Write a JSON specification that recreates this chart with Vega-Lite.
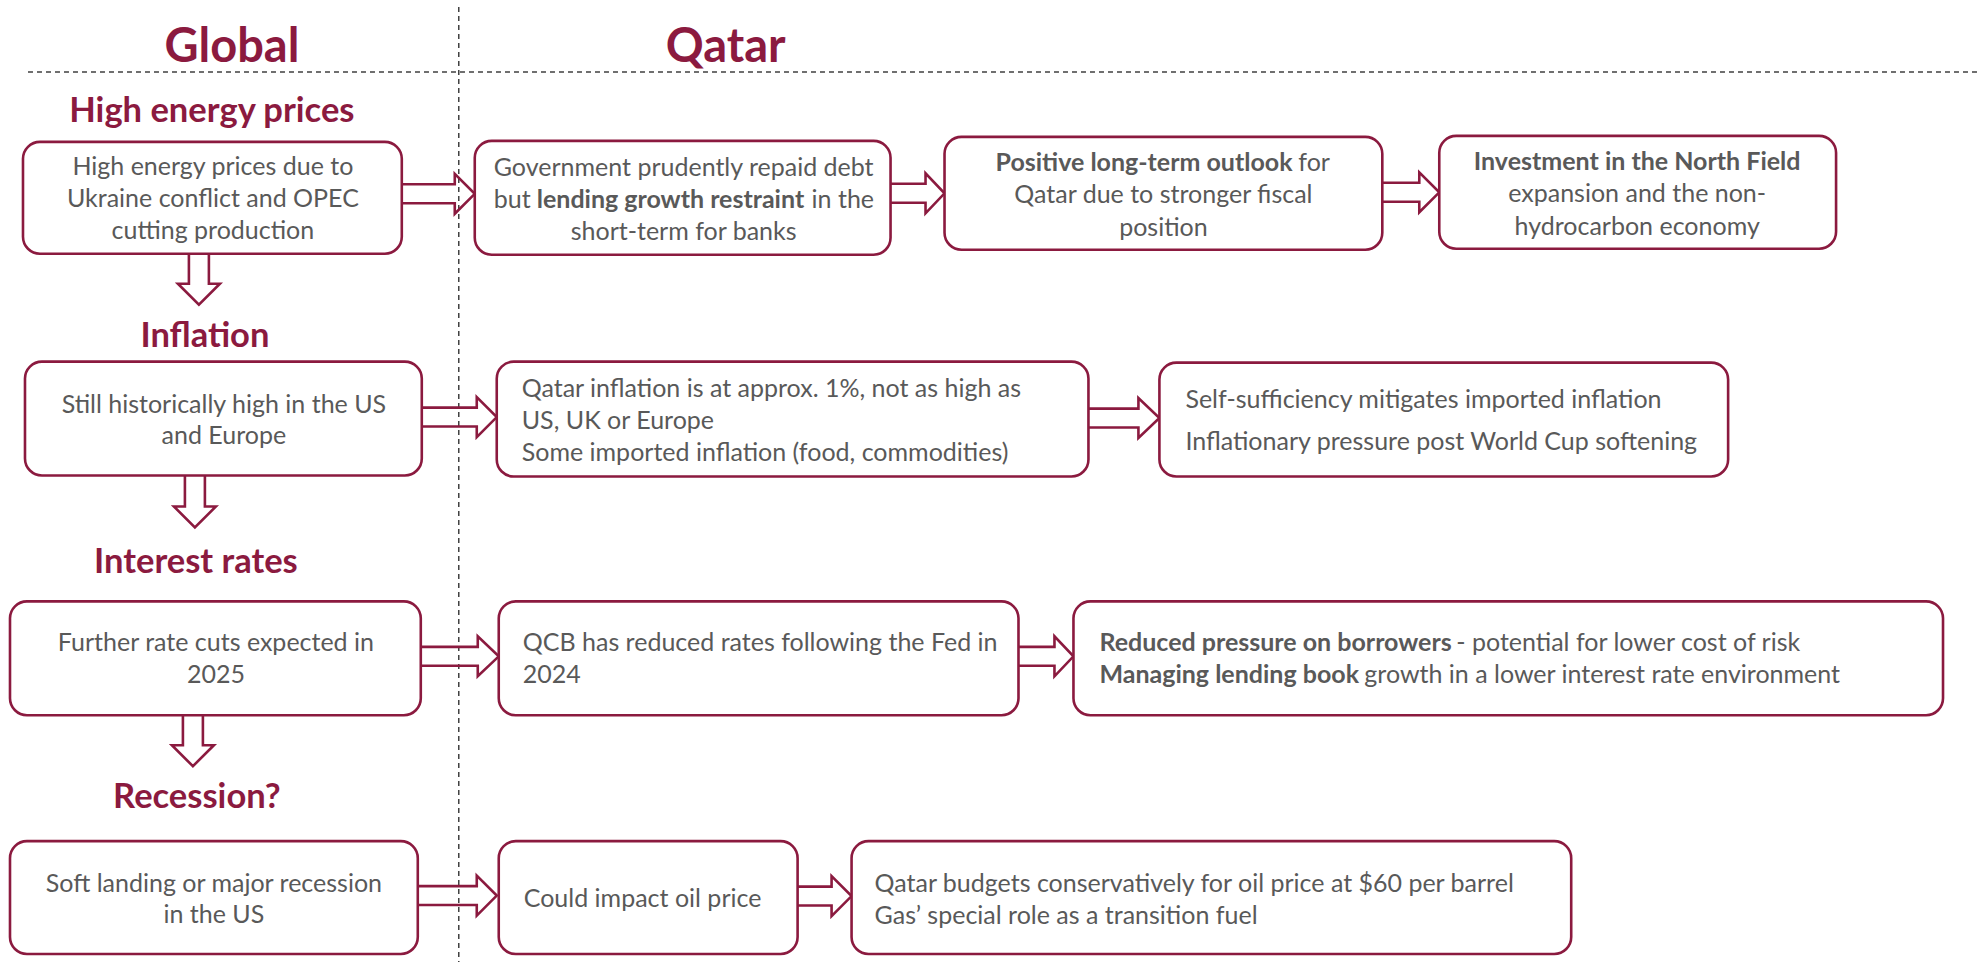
{
  "$schema": "https://vega.github.io/schema/vega-lite/v6.json",
  "width": 1981,
  "height": 963,
  "autosize": {"type": "fit", "contains": "padding"},
  "padding": 0,
  "background": "white",
  "config": {"view": {"stroke": null}},
  "datasets": {
    "guides": [
      {"x": 28, "y": 72, "x2": 1981, "y2": 72},
      {"x": 459, "y": 7, "x2": 459, "y2": 963}
    ],
    "boxes": [
      {"id": "B1", "x": 23, "x2": 402, "y": 142, "y2": 254},
      {"id": "B2", "x": 475, "x2": 891, "y": 141, "y2": 255},
      {"id": "B3", "x": 945, "x2": 1383, "y": 137, "y2": 250},
      {"id": "B4", "x": 1440, "x2": 1837, "y": 136, "y2": 249},
      {"id": "B5", "x": 25, "x2": 422, "y": 362, "y2": 476},
      {"id": "B6", "x": 497, "x2": 1089, "y": 362, "y2": 477},
      {"id": "B7", "x": 1160, "x2": 1729, "y": 363, "y2": 477},
      {"id": "B8", "x": 10, "x2": 421, "y": 602, "y2": 716},
      {"id": "B9", "x": 499, "x2": 1019, "y": 602, "y2": 716},
      {"id": "B10", "x": 1074, "x2": 1944, "y": 602, "y2": 716},
      {"id": "B11", "x": 10, "x2": 418, "y": 842, "y2": 955},
      {"id": "B12", "x": 499, "x2": 798, "y": 842, "y2": 955},
      {"id": "B13", "x": 852, "x2": 1572, "y": 842, "y2": 955}
    ],
    "arrows": [
      {"id": "A1", "i": 1, "x": 402, "y": 184.5}, {"id": "A1", "i": 2, "x": 455, "y": 184.5}, {"id": "A1", "i": 3, "x": 455, "y": 174}, {"id": "A1", "i": 4, "x": 475, "y": 194}, {"id": "A1", "i": 5, "x": 455, "y": 214}, {"id": "A1", "i": 6, "x": 455, "y": 203.5}, {"id": "A1", "i": 7, "x": 402, "y": 203.5},
      {"id": "A2", "i": 1, "x": 422, "y": 408}, {"id": "A2", "i": 2, "x": 477, "y": 408}, {"id": "A2", "i": 3, "x": 477, "y": 397.5}, {"id": "A2", "i": 4, "x": 497, "y": 417.5}, {"id": "A2", "i": 5, "x": 477, "y": 437.5}, {"id": "A2", "i": 6, "x": 477, "y": 427}, {"id": "A2", "i": 7, "x": 422, "y": 427},
      {"id": "A3", "i": 1, "x": 421, "y": 647.5}, {"id": "A3", "i": 2, "x": 478, "y": 647.5}, {"id": "A3", "i": 3, "x": 478, "y": 637}, {"id": "A3", "i": 4, "x": 499, "y": 657}, {"id": "A3", "i": 5, "x": 478, "y": 677}, {"id": "A3", "i": 6, "x": 478, "y": 666.5}, {"id": "A3", "i": 7, "x": 421, "y": 666.5},
      {"id": "A4", "i": 1, "x": 418, "y": 887}, {"id": "A4", "i": 2, "x": 477, "y": 887}, {"id": "A4", "i": 3, "x": 477, "y": 876.5}, {"id": "A4", "i": 4, "x": 497, "y": 896.5}, {"id": "A4", "i": 5, "x": 477, "y": 916.5}, {"id": "A4", "i": 6, "x": 477, "y": 906}, {"id": "A4", "i": 7, "x": 418, "y": 906},
      {"id": "A5", "i": 1, "x": 798, "y": 887.5}, {"id": "A5", "i": 2, "x": 832, "y": 887.5}, {"id": "A5", "i": 3, "x": 832, "y": 877}, {"id": "A5", "i": 4, "x": 852, "y": 897}, {"id": "A5", "i": 5, "x": 832, "y": 917}, {"id": "A5", "i": 6, "x": 832, "y": 906.5}, {"id": "A5", "i": 7, "x": 798, "y": 906.5},
      {"id": "A6", "i": 1, "x": 891, "y": 184}, {"id": "A6", "i": 2, "x": 926, "y": 184}, {"id": "A6", "i": 3, "x": 926, "y": 173.5}, {"id": "A6", "i": 4, "x": 945, "y": 193.5}, {"id": "A6", "i": 5, "x": 926, "y": 213.5}, {"id": "A6", "i": 6, "x": 926, "y": 203}, {"id": "A6", "i": 7, "x": 891, "y": 203},
      {"id": "A7", "i": 1, "x": 1383, "y": 183}, {"id": "A7", "i": 2, "x": 1420, "y": 183}, {"id": "A7", "i": 3, "x": 1420, "y": 172.5}, {"id": "A7", "i": 4, "x": 1440, "y": 192.5}, {"id": "A7", "i": 5, "x": 1420, "y": 212.5}, {"id": "A7", "i": 6, "x": 1420, "y": 202}, {"id": "A7", "i": 7, "x": 1383, "y": 202},
      {"id": "A8", "i": 1, "x": 1089, "y": 409}, {"id": "A8", "i": 2, "x": 1139, "y": 409}, {"id": "A8", "i": 3, "x": 1139, "y": 398.5}, {"id": "A8", "i": 4, "x": 1160, "y": 418.5}, {"id": "A8", "i": 5, "x": 1139, "y": 438.5}, {"id": "A8", "i": 6, "x": 1139, "y": 428}, {"id": "A8", "i": 7, "x": 1089, "y": 428},
      {"id": "A9", "i": 1, "x": 1019, "y": 647.5}, {"id": "A9", "i": 2, "x": 1055, "y": 647.5}, {"id": "A9", "i": 3, "x": 1055, "y": 637}, {"id": "A9", "i": 4, "x": 1074, "y": 657}, {"id": "A9", "i": 5, "x": 1055, "y": 677}, {"id": "A9", "i": 6, "x": 1055, "y": 666.5}, {"id": "A9", "i": 7, "x": 1019, "y": 666.5},
      {"id": "D1", "i": 1, "x": 189, "y": 254}, {"id": "D1", "i": 2, "x": 189, "y": 284}, {"id": "D1", "i": 3, "x": 178, "y": 284}, {"id": "D1", "i": 4, "x": 199, "y": 305}, {"id": "D1", "i": 5, "x": 220, "y": 284}, {"id": "D1", "i": 6, "x": 209, "y": 284}, {"id": "D1", "i": 7, "x": 209, "y": 254},
      {"id": "D2", "i": 1, "x": 185, "y": 476}, {"id": "D2", "i": 2, "x": 185, "y": 507}, {"id": "D2", "i": 3, "x": 174, "y": 507}, {"id": "D2", "i": 4, "x": 195, "y": 528}, {"id": "D2", "i": 5, "x": 216, "y": 507}, {"id": "D2", "i": 6, "x": 205, "y": 507}, {"id": "D2", "i": 7, "x": 205, "y": 476},
      {"id": "D3", "i": 1, "x": 183, "y": 716}, {"id": "D3", "i": 2, "x": 183, "y": 746}, {"id": "D3", "i": 3, "x": 172, "y": 746}, {"id": "D3", "i": 4, "x": 193, "y": 767}, {"id": "D3", "i": 5, "x": 214, "y": 746}, {"id": "D3", "i": 6, "x": 203, "y": 746}, {"id": "D3", "i": 7, "x": 203, "y": 716}
    ],
    "texts": [
      {"role": "column", "anchor": "middle", "x": 232, "y": 48, "text": "Global"},
      {"role": "column", "anchor": "middle", "x": 726, "y": 48, "text": "Qatar"},
      {"role": "heading", "anchor": "middle", "x": 212, "y": 112, "text": "High energy prices"},
      {"role": "heading", "anchor": "middle", "x": 205, "y": 337, "text": "Inflation"},
      {"role": "heading", "anchor": "middle", "x": 196, "y": 564, "text": "Interest rates"},
      {"role": "heading", "anchor": "middle", "x": 197, "y": 799, "text": "Recession?"},

      {"role": "body", "anchor": "middle", "x": 213, "y": 167, "text": "High energy prices due to"},
      {"role": "body", "anchor": "middle", "x": 213, "y": 199, "text": "Ukraine conflict and OPEC"},
      {"role": "body", "anchor": "middle", "x": 213, "y": 231, "text": "cutting production"},

      {"role": "body", "anchor": "middle", "x": 684, "y": 168, "text": "Government prudently repaid debt"},
      {"role": "body", "anchor": "end", "x": 531, "y": 200, "text": "but"},
      {"role": "emphasis", "anchor": "start", "x": 537, "y": 200, "text": "lending growth restraint"},
      {"role": "body", "anchor": "start", "x": 812, "y": 200, "text": "in the"},
      {"role": "body", "anchor": "middle", "x": 684, "y": 232, "text": "short-term for banks"},

      {"role": "emphasis", "anchor": "start", "x": 996, "y": 163, "text": "Positive long-term outlook"},
      {"role": "body", "anchor": "start", "x": 1299, "y": 163, "text": "for"},
      {"role": "body", "anchor": "middle", "x": 1164, "y": 195, "text": "Qatar due to stronger fiscal"},
      {"role": "body", "anchor": "middle", "x": 1164, "y": 228, "text": "position"},

      {"role": "emphasis", "anchor": "middle", "x": 1638, "y": 162, "text": "Investment in the North Field"},
      {"role": "body", "anchor": "middle", "x": 1638, "y": 194, "text": "expansion and the non-"},
      {"role": "body", "anchor": "middle", "x": 1638, "y": 227, "text": "hydrocarbon economy"},

      {"role": "body", "anchor": "middle", "x": 224, "y": 405, "text": "Still historically high in the US"},
      {"role": "body", "anchor": "middle", "x": 224, "y": 436, "text": "and Europe"},

      {"role": "body", "anchor": "start", "x": 522, "y": 389, "text": "Qatar inflation is at approx. 1%, not as high as"},
      {"role": "body", "anchor": "start", "x": 522, "y": 421, "text": "US, UK or Europe"},
      {"role": "body", "anchor": "start", "x": 522, "y": 453, "text": "Some imported inflation (food, commodities)"},

      {"role": "body", "anchor": "start", "x": 1186, "y": 400, "text": "Self-sufficiency mitigates imported inflation"},
      {"role": "body", "anchor": "start", "x": 1186, "y": 442, "text": "Inflationary pressure post World Cup softening"},

      {"role": "body", "anchor": "middle", "x": 216, "y": 644, "text": "Further rate cuts expected in"},
      {"role": "body", "anchor": "middle", "x": 216, "y": 676, "text": "2025"},

      {"role": "body", "anchor": "start", "x": 523, "y": 644, "text": "QCB has reduced rates following the Fed in"},
      {"role": "body", "anchor": "start", "x": 523, "y": 676, "text": "2024"},

      {"role": "emphasis", "anchor": "start", "x": 1100, "y": 644, "text": "Reduced pressure on borrowers"},
      {"role": "body", "anchor": "start", "x": 1457, "y": 644, "text": "- potential for lower cost of risk"},
      {"role": "emphasis", "anchor": "start", "x": 1100, "y": 676, "text": "Managing lending book"},
      {"role": "body", "anchor": "start", "x": 1365, "y": 676, "text": "growth in a lower interest rate environment"},

      {"role": "body", "anchor": "middle", "x": 214, "y": 885, "text": "Soft landing or major recession"},
      {"role": "body", "anchor": "middle", "x": 214, "y": 916, "text": "in the US"},

      {"role": "body", "anchor": "start", "x": 524, "y": 900, "text": "Could impact oil price"},

      {"role": "body", "anchor": "start", "x": 875, "y": 885, "text": "Qatar budgets conservatively for oil price at $60 per barrel"},
      {"role": "body", "anchor": "start", "x": 875, "y": 917, "text": "Gas’ special role as a transition fuel"}
    ]
  },
  "encoding": {
    "x": {"field": "x", "type": "quantitative", "scale": {"domain": [0, 1981], "nice": false, "zero": false}, "axis": null},
    "y": {"field": "y", "type": "quantitative", "scale": {"domain": [0, 963], "nice": false, "zero": false, "reverse": true}, "axis": null}
  },
  "layer": [
    {
      "data": {"name": "guides"},
      "mark": {"type": "rule", "stroke": "#404040", "strokeWidth": 1.5, "strokeDash": [5, 4]},
      "encoding": {"x2": {"field": "x2"}, "y2": {"field": "y2"}}
    },
    {
      "data": {"name": "arrows"},
      "mark": {"type": "line", "stroke": "#8B1A3F", "strokeWidth": 2.6, "interpolate": "linear", "strokeJoin": "miter"},
      "encoding": {"detail": {"field": "id"}, "order": {"field": "i", "type": "quantitative"}}
    },
    {
      "data": {"name": "boxes"},
      "mark": {"type": "rect", "fill": "white", "stroke": "#8B1A3F", "strokeWidth": 2.6, "cornerRadius": 17},
      "encoding": {"x2": {"field": "x2"}, "y2": {"field": "y2"}}
    },
    {
      "data": {"name": "texts"},
      "transform": [{"filter": "datum.role === 'column'"}],
      "mark": {"type": "text", "font": "Lato", "fontWeight": "bold", "fontSize": 47, "color": "#8B1A3F", "align": "center", "baseline": "middle"},
      "encoding": {"text": {"field": "text"}}
    },
    {
      "data": {"name": "texts"},
      "transform": [{"filter": "datum.role === 'heading'"}],
      "mark": {"type": "text", "font": "Lato", "fontWeight": "bold", "fontSize": 34.5, "color": "#8B1A3F", "align": "center", "baseline": "middle"},
      "encoding": {"text": {"field": "text"}}
    },
    {
      "data": {"name": "texts"},
      "transform": [{"filter": "datum.role === 'body' && datum.anchor === 'middle'"}],
      "mark": {"type": "text", "font": "Lato", "fontSize": 25, "color": "#595959", "align": "center", "baseline": "middle"},
      "encoding": {"text": {"field": "text"}}
    },
    {
      "data": {"name": "texts"},
      "transform": [{"filter": "datum.role === 'body' && datum.anchor === 'start'"}],
      "mark": {"type": "text", "font": "Lato", "fontSize": 25, "color": "#595959", "align": "left", "baseline": "middle"},
      "encoding": {"text": {"field": "text"}}
    },
    {
      "data": {"name": "texts"},
      "transform": [{"filter": "datum.role === 'body' && datum.anchor === 'end'"}],
      "mark": {"type": "text", "font": "Lato", "fontSize": 25, "color": "#595959", "align": "right", "baseline": "middle"},
      "encoding": {"text": {"field": "text"}}
    },
    {
      "data": {"name": "texts"},
      "transform": [{"filter": "datum.role === 'emphasis' && datum.anchor === 'middle'"}],
      "mark": {"type": "text", "font": "Lato", "fontWeight": "bold", "fontSize": 25, "color": "#595959", "align": "center", "baseline": "middle"},
      "encoding": {"text": {"field": "text"}}
    },
    {
      "data": {"name": "texts"},
      "transform": [{"filter": "datum.role === 'emphasis' && datum.anchor === 'start'"}],
      "mark": {"type": "text", "font": "Lato", "fontWeight": "bold", "fontSize": 25, "color": "#595959", "align": "left", "baseline": "middle"},
      "encoding": {"text": {"field": "text"}}
    }
  ]
}
